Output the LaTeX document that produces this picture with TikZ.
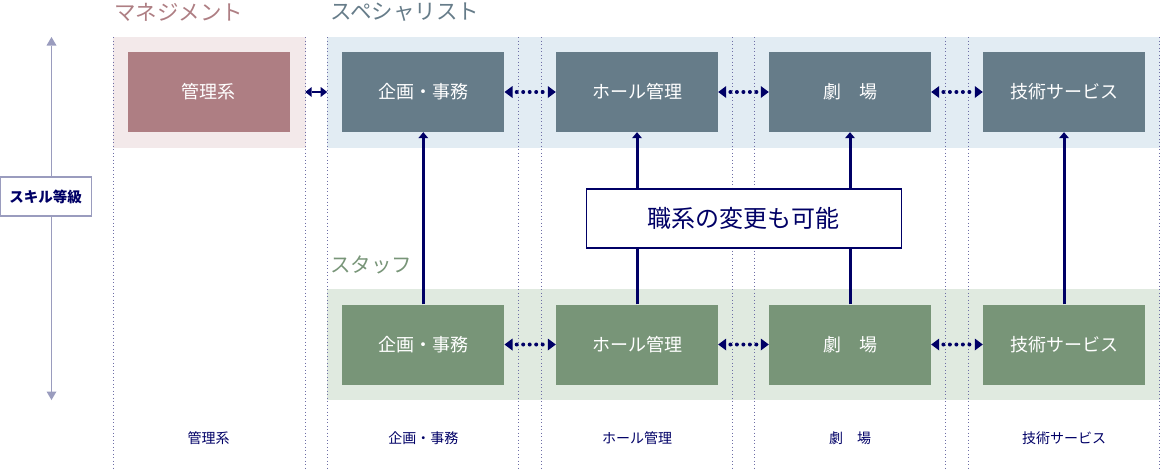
\documentclass[tikz,border=0pt]{standalone}
\usepackage{fontspec}
\setmainfont{Noto Sans CJK JP}
\usetikzlibrary{arrows.meta}
\definecolor{navy}{HTML}{000066}
\definecolor{lav}{HTML}{9A9CBE}
\definecolor{pinkbox}{HTML}{AE7E83}
\definecolor{pinkband}{HTML}{F3E9EA}
\definecolor{slatebox}{HTML}{667C89}
\definecolor{blueband}{HTML}{E2ECF3}
\definecolor{greenbox}{HTML}{789578}
\definecolor{greenband}{HTML}{E0EAE0}
\definecolor{colline}{HTML}{6E6EA6}
\tikzset{
  jobbox/.style={rectangle, minimum width=162pt, minimum height=80pt, inner sep=0pt,
    text=white, font=\fontsize{18}{20}\selectfont},
  mgmtbox/.style={jobbox, fill=pinkbox},
  specbox/.style={jobbox, fill=slatebox},
  staffbox/.style={jobbox, fill=greenbox},
  colsep/.style={colline, line width=0.9pt, dash pattern=on 0.9pt off 2.6pt},
  dotarrow/.style={navy, line width=4pt, line cap=round, dash pattern=on 0pt off 6.5pt, dash phase=2.3pt,
    {Triangle[length=8pt,width=12pt,line width=0pt]}-{Triangle[length=8pt,width=12pt,line width=0pt]}},
  solidarrow/.style={navy, line width=2.2pt,
    {Triangle[length=6.5pt,width=10pt,line width=0pt]}-{Triangle[length=6.5pt,width=10pt,line width=0pt]}},
  uparrow/.style={navy, line width=3pt, -{Triangle[length=6pt,width=10pt,line width=0pt]}},
  axisarrow/.style={lav, line width=1.5pt,
    {Triangle[length=8.5pt,width=10pt,line width=0pt]}-{Triangle[length=8.5pt,width=10pt,line width=0pt]}},
  title/.style={anchor=west, inner sep=0pt, font=\fontsize{21.5}{24}\selectfont},
  bottomlabel/.style={navy, inner sep=0pt, font=\fontsize{14}{16}\selectfont},
}
\begin{document}
\begin{tikzpicture}[x=1pt,y=-1pt]
\useasboundingbox (0,0) rectangle (1160,469);
% bands
\fill[pinkband] (113,37) rectangle (305.6,148);
\fill[blueband] (327.4,37) rectangle (1160,148);
\fill[greenband] (327.4,289) rectangle (1160,400);
% column separators
\foreach \x in {113,305.6,327.4,518,541.6,732.4,754.3,945.5,968.5,1159.3}
  \draw[colsep] (\x,37) -- (\x,469);
% titles
\node[title, text=pinkbox] (tmgmt) at (114,12.5) {マネジメント};
\node[title, text=slatebox] (tspec) at (330,12.5) {スペシャリスト};
\node[title, text=greenbox, font=\fontsize{20.5}{24}\selectfont] (tstaff) at (330,264.5) {スタッフ};
% skill axis
\coordinate (axtop) at (51.5,37);
\coordinate (axbot) at (51.5,400);
\draw[axisarrow] (axtop) -- (axbot);
\node[draw=lav, line width=1.3pt, fill=white, text=navy, minimum width=91pt, minimum height=39pt,
  inner sep=0pt, font=\fontsize{14.5}{16}\selectfont\bfseries] (skill) at (45.7,196.5) {スキル等級};
% top row
\node[mgmtbox] (m1) at (208.5,92) {管理系};
\node[specbox] (t1) at (423.3,92) {企画・事務};
\node[specbox] (t2) at (637,92) {ホール管理};
\node[specbox] (t3) at (850,92) {劇　場};
\node[specbox] (t4) at (1064,92) {技術サービス};
% bottom row
\node[staffbox] (s1) at (423.3,344.5) {企画・事務};
\node[staffbox] (s2) at (637,344.5) {ホール管理};
\node[staffbox] (s3) at (850,344.5) {劇　場};
\node[staffbox] (s4) at (1064,344.5) {技術サービス};
% horizontal connectors
\draw[solidarrow] ([xshift=15.5pt]m1.east) -- ([xshift=-14.9pt]t1.west);
\draw[dotarrow] (t1.east) -- (t2.west);
\draw[dotarrow] (t2.east) -- (t3.west);
\draw[dotarrow] (t3.east) -- (t4.west);
\draw[dotarrow] (s1.east) -- (s2.west);
\draw[dotarrow] (s2.east) -- (s3.west);
\draw[dotarrow] (s3.east) -- (s4.west);
% vertical connectors
\draw[uparrow] (s1.north) -- (t1.south);
\draw[uparrow] (s2.north) -- (t2.south);
\draw[uparrow] (s3.north) -- (t3.south);
\draw[uparrow] (s4.north) -- (t4.south);
% change box
\node[draw=navy, line width=1.3pt, fill=white, text=navy, minimum width=315pt, minimum height=59pt,
  inner sep=0pt, font=\fontsize{24}{26}\selectfont] (change) at (743.8,218.5) {職系の変更も可能};
% bottom labels
\node[bottomlabel] (b0) at (208.5,438) {管理系};
\node[bottomlabel] (b1) at (423.3,438) {企画・事務};
\node[bottomlabel] (b2) at (637,438) {ホール管理};
\node[bottomlabel] (b3) at (850,438) {劇　場};
\node[bottomlabel] (b4) at (1064,438) {技術サービス};
\end{tikzpicture}
\end{document}
